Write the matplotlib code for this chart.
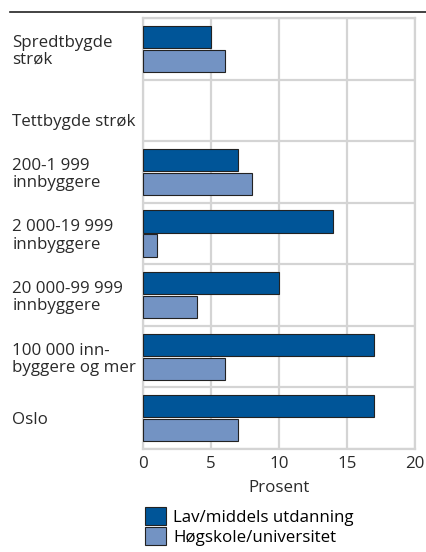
import numpy as np
import matplotlib
matplotlib.use('Agg')
from matplotlib import pyplot as plt
from matplotlib.patches import Patch

categories = ['Spredtbygde\nstrøk', '\nTettbygde strøk', '200-1 999\ninnbyggere',
              '2 000-19 999\ninnbyggere', '20 000-99 999\ninnbyggere',
              '100 000 inn-\nbyggere og mer', 'Oslo']
lav = [5, np.nan, 7, 14, 10, 17, 17]
hoy = [6, np.nan, 8, 1, 4, 6, 7]
series_names = ['Lav/middels utdanning', 'Høgskole/universitet']
xticks = [0, 5, 10, 15, 20]

plt.rcParams['font.family'] = ['Open Sans', 'DejaVu Sans']
dark = '#005598'
light = '#7393c3'
gridc = '#d4d4d4'
txtc = '#2a2a2a'
fs = 12.2

fig = plt.figure(figsize=(4.27, 5.52), dpi=100)
ax = fig.add_axes([0.335, 0.1866, 0.637, 0.7808])

y = np.arange(len(categories))
ax.barh(y - 0.195, lav, height=0.36, color=dark, edgecolor='#222222', linewidth=0.8, zorder=3)
ax.barh(y + 0.195, hoy, height=0.36, color=light, edgecolor='#222222', linewidth=0.8, zorder=3)

ax.set_xlim(0, 20)
ax.set_ylim(len(categories) - 0.5, -0.5)
ax.set_xticks(xticks)
ax.set_xticklabels([str(t) for t in xticks], fontsize=fs, color=txtc)
ax.set_yticks(y)
ax.set_yticklabels(categories, fontsize=fs, color=txtc, ha='left', linespacing=1.1)
ax.set_yticks(np.arange(len(categories) + 1) - 0.5, minor=True)
ax.tick_params(axis='y', which='both', length=0, pad=94)
ax.tick_params(axis='x', length=0, pad=5)

ax.grid(axis='x', color=gridc, linewidth=1.6, zorder=0)
ax.grid(axis='y', which='minor', color=gridc, linewidth=1.6, zorder=0)
ax.grid(axis='y', which='major', visible=False)
for s in ax.spines.values():
    s.set_color(gridc)
    s.set_linewidth(1.6)

ax.set_xlabel('Prosent', fontsize=fs, color=txtc, labelpad=6)

handles = [Patch(facecolor=dark, edgecolor='#222222', linewidth=0.8),
           Patch(facecolor=light, edgecolor='#222222', linewidth=0.8)]
fig.legend(handles, series_names, loc='upper left', bbox_to_anchor=(145 / 427, 1 - 507 / 552),
           bbox_transform=fig.transFigure, frameon=False, fontsize=fs,
           handlelength=1.25, handleheight=1.25, handletextpad=0.4, labelspacing=0.1,
           borderpad=0, borderaxespad=0)

# top rule
fig.add_artist(plt.Line2D([10 / 427, 1.0], [1 - 12 / 552] * 2, color='#222222', linewidth=1.2))

fig.savefig('out.png', dpi=100)
